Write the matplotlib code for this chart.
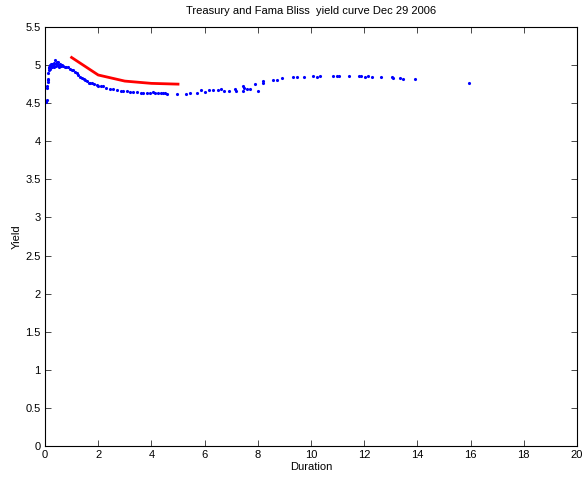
import matplotlib
matplotlib.use("Agg")
import matplotlib.pyplot as plt
from matplotlib.ticker import FormatStrFormatter

# Treasury bonds: duration (years) and yield (%)
bond_duration = [
    0.05, 0.06, 0.08, 0.09, 0.10, 0.11, 0.12, 0.13, 0.14, 0.15, 0.16, 0.18,
    0.19, 0.20, 0.22, 0.24, 0.25, 0.27, 0.30, 0.32, 0.35, 0.38, 0.40, 0.42,
    0.45, 0.48, 0.50, 0.53, 0.56, 0.60, 0.65, 0.69, 0.75, 0.80, 0.88, 0.95,
    1.00, 1.06, 1.12, 1.19, 1.25, 1.32, 1.38, 1.45, 1.50, 1.58, 1.65, 1.69,
    1.75, 1.85, 1.94, 2.00, 2.10, 2.19, 2.30, 2.44, 2.55, 2.70, 2.85, 2.95,
    3.07, 3.20, 3.30, 3.45, 3.60, 3.70, 3.82, 3.95, 4.05, 4.14, 4.25, 4.35,
    4.45, 4.51, 4.57,
    4.97, 5.29, 5.45, 5.73, 5.86, 6.01, 6.18, 6.30, 6.52, 6.62, 6.74, 6.90,
    7.15, 7.19, 7.43, 7.46, 7.48, 7.58, 7.71, 7.91, 8.02, 8.18, 8.18, 8.56,
    8.73, 8.90, 9.31, 9.46, 9.74, 10.09, 10.24, 10.34, 10.82, 10.97, 11.07,
    11.41, 11.80, 11.89, 12.03, 12.16, 12.29, 12.65, 13.05, 13.09, 13.35,
    13.44, 13.92, 15.93,
]
bond_yield = [
    4.52, 4.54, 4.70, 4.72, 4.78, 4.82, 4.80, 4.89, 4.93, 4.97, 4.96, 5.00,
    4.98, 4.95, 5.01, 4.99, 5.02, 4.97, 5.00, 5.03, 4.98, 5.07, 5.01, 4.99,
    5.04, 5.00, 5.04, 4.98, 5.02, 4.99, 5.00, 4.99, 4.98, 4.98, 4.97, 4.95,
    4.94, 4.93, 4.91, 4.89, 4.87, 4.85, 4.83, 4.82, 4.80, 4.79, 4.77, 4.77,
    4.76, 4.75, 4.74, 4.73, 4.72, 4.72, 4.70, 4.69, 4.68, 4.67, 4.66, 4.66,
    4.66, 4.65, 4.65, 4.65, 4.64, 4.64, 4.64, 4.63, 4.65, 4.64, 4.63, 4.64,
    4.64, 4.64, 4.62,
    4.62, 4.62, 4.63, 4.64, 4.67, 4.65, 4.67, 4.67, 4.67, 4.68, 4.66, 4.66,
    4.68, 4.66, 4.66, 4.73, 4.70, 4.68, 4.68, 4.75, 4.66, 4.76, 4.79, 4.80,
    4.81, 4.83, 4.84, 4.85, 4.85, 4.86, 4.85, 4.86, 4.86, 4.86, 4.86,
    4.86, 4.86, 4.86, 4.85, 4.86, 4.85, 4.84, 4.84, 4.83, 4.83,
    4.82, 4.82, 4.76,
]

# Fama-Bliss yields
fb_maturity = [1, 2, 3, 4, 5]
fb_yield = [5.10, 4.87, 4.79, 4.76, 4.75]

plt.rcParams["font.family"] = ["Liberation Sans", "DejaVu Sans"]
plt.rcParams["font.size"] = 8

fig = plt.figure(figsize=(5.82, 4.8), dpi=100)
ax = fig.add_axes([45 / 582, 1 - 446 / 480, 532 / 582, 419 / 480])

ax.plot(bond_duration, bond_yield, ".", color="blue", markersize=2.5)
ax.plot(fb_maturity, fb_yield, "-", color="red", linewidth=2)

ax.set_xlim(0, 20)
ax.set_ylim(0, 5.5)
ax.set_xticks(range(0, 21, 2))
ax.set_yticks([i * 0.5 for i in range(12)])
ax.yaxis.set_major_formatter(FormatStrFormatter("%g"))
ax.tick_params(direction="in", top=True, right=True, length=4, width=0.5, pad=3)
for s in ax.spines.values():
    s.set_linewidth(0.8)

ax.set_title("Treasury and Fama Bliss  yield curve Dec 29 2006", fontsize=8, pad=9)
ax.set_xlabel("Duration", labelpad=1)
ax.set_ylabel("Yield", labelpad=3)

fig.savefig("out.png", dpi=100)
